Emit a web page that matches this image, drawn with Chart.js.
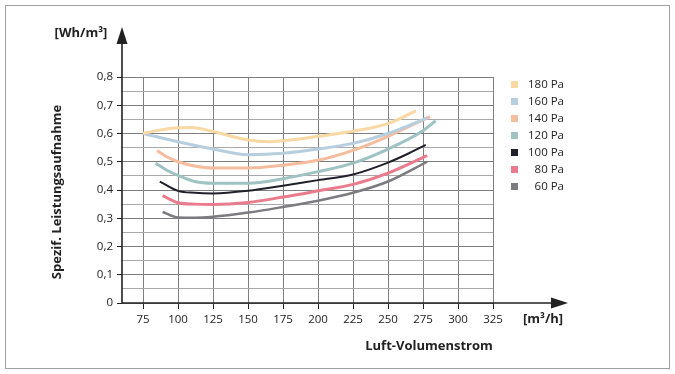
<!DOCTYPE html>
<html>
<head>
<meta charset="utf-8">
<script src="https://cdn.jsdelivr.net/npm/chart.js@4/dist/chart.umd.min.js"></script>
<style>
  html, body { margin: 0; padding: 0; background: #fff; }
  canvas { display: block; }
</style>
</head>
<body>
<canvas id="chart" width="675" height="374"></canvas>
<script>
/* ------------------------------
   Data
   ------------------------------ */
const xTicks = [75, 100, 125, 150, 175, 200, 225, 250, 275, 300, 325];
const yTicks = [0, 0.05, 0.1, 0.15, 0.2, 0.25, 0.3, 0.35, 0.4, 0.45, 0.5, 0.55, 0.6, 0.65, 0.7, 0.75, 0.8];

const seriesLabels = ["180 Pa", "160 Pa", "140 Pa", "120 Pa", "100 Pa", "80 Pa", "60 Pa"];

const x180 = [75, 87, 100, 110, 125, 150, 165, 175, 200, 225, 250, 270];
const y180 = [0.60, 0.612, 0.62, 0.621, 0.607, 0.577, 0.571, 0.574, 0.59, 0.608, 0.635, 0.68];

const x160 = [75, 100, 125, 150, 175, 200, 225, 250, 278];
const y160 = [0.60, 0.571, 0.545, 0.525, 0.53, 0.545, 0.565, 0.60, 0.655];

const x140 = [85, 93, 100, 112, 125, 150, 175, 200, 225, 250, 280];
const y140 = [0.54, 0.515, 0.50, 0.485, 0.478, 0.478, 0.488, 0.505, 0.54, 0.59, 0.66];

const x120 = [84, 92, 100, 112, 125, 150, 175, 200, 225, 250, 275, 284];
const y120 = [0.495, 0.47, 0.452, 0.43, 0.424, 0.424, 0.44, 0.465, 0.495, 0.545, 0.61, 0.645];

const x100 = [87, 100, 112, 125, 150, 175, 200, 225, 250, 265, 277];
const y100 = [0.43, 0.397, 0.39, 0.388, 0.397, 0.415, 0.435, 0.455, 0.497, 0.53, 0.56];

const x80 = [89, 100, 112, 125, 150, 175, 200, 225, 250, 278];
const y80 = [0.38, 0.355, 0.35, 0.349, 0.356, 0.375, 0.397, 0.42, 0.46, 0.522];

const x60 = [89, 100, 112, 125, 150, 175, 200, 225, 250, 278];
const y60 = [0.322, 0.303, 0.302, 0.305, 0.32, 0.34, 0.362, 0.39, 0.43, 0.50];

/* Styles */
const lineColors = ["#f9d8a4", "#b6cede", "#f6bc9e", "#9fc2c4", "#20202c", "#e97b8d", "#7b7b80"];
const lineWidths = [3, 3, 3, 3, 2, 3, 2.5];
const FONT = "'Open Sans', sans-serif";
const INK = "#222";

const seriesX = [x180, x160, x140, x120, x100, x80, x60];
const seriesY = [y180, y160, y140, y120, y100, y80, y60];

const datasets = seriesLabels.map((label, i) => ({
  label,
  data: seriesX[i].map((x, j) => ({ x, y: seriesY[i][j] })),
  borderColor: lineColors[i],
  backgroundColor: lineColors[i],
  borderWidth: lineWidths[i],
  pointRadius: 0,
  cubicInterpolationMode: "monotone",
  fill: false
}));

const isMajor = (v) => Math.round(v * 20) % 2 === 0;
const fmtY = (v) => (v === 0 ? "0" : v.toFixed(1).replace(".", ","));

/* ------------------------------
   Decorations: frame, axis arrows, titles, legend
   ------------------------------ */
const decor = {
  id: "decor",
  afterDraw(chart) {
    const { ctx, chartArea: a } = chart;
    ctx.save();

    // outer frame
    ctx.strokeStyle = "#a0a0a0";
    ctx.lineWidth = 1;
    ctx.strokeRect(5.5, 5.5, 664, 363);

    // axes with arrows
    ctx.strokeStyle = INK;
    ctx.fillStyle = INK;
    ctx.lineWidth = 1.6;
    ctx.beginPath();
    ctx.moveTo(a.left, a.bottom);
    ctx.lineTo(a.left, 40);
    ctx.moveTo(a.left, a.bottom);
    ctx.lineTo(554, a.bottom);
    ctx.stroke();

    ctx.beginPath();
    ctx.moveTo(a.left, 27);
    ctx.lineTo(a.left - 5.5, 44);
    ctx.lineTo(a.left + 5.5, 44);
    ctx.closePath();
    ctx.fill();

    ctx.beginPath();
    ctx.moveTo(568, a.bottom);
    ctx.lineTo(551, a.bottom - 5.5);
    ctx.lineTo(551, a.bottom + 5.5);
    ctx.closePath();
    ctx.fill();

    // titles
    ctx.font = `bold 13px ${FONT}`;
    ctx.textAlign = "center";
    ctx.textBaseline = "middle";
    ctx.fillText("[Wh/m³]", 81, 33);
    ctx.fillText("[m³/h]", 543, 319);
    ctx.fillText("Luft-Volumenstrom", 429, 346);

    ctx.save();
    ctx.translate(57, 192);
    ctx.rotate(-Math.PI / 2);
    ctx.fillText("Spezif. Leistungsaufnahme", 0, 0);
    ctx.restore();

    // legend
    ctx.font = `11.5px ${FONT}`;
    ctx.textAlign = "right";
    seriesLabels.forEach((label, i) => {
      const cy = 84.5 + i * 17;
      ctx.fillStyle = lineColors[i];
      ctx.fillRect(511, cy - 3.5, 7, 7);
      ctx.fillStyle = INK;
      ctx.fillText(label, 564, cy);
    });

    ctx.restore();
  }
};

/* ------------------------------
   Chart
   ------------------------------ */
new Chart(document.getElementById("chart"), {
  type: "line",
  data: { datasets },
  options: {
    responsive: false,
    animation: false,
    layout: { padding: { top: 77, right: 182, bottom: 0, left: 0 } },
    plugins: { legend: { display: false }, tooltip: { enabled: false } },
    scales: {
      x: {
        type: "linear",
        min: 60,
        max: 325,
        afterBuildTicks: (s) => { s.ticks = xTicks.map((v) => ({ value: v })); },
        afterFit: (s) => { s.height = 71; },
        border: { display: false },
        grid: { color: "#7e7e7e", lineWidth: 1, tickLength: 6, tickColor: INK },
        ticks: {
          color: INK, font: { family: FONT, size: 11.5 }, padding: 4,
          maxRotation: 0, autoSkip: false
        }
      },
      y: {
        type: "linear",
        min: 0,
        max: 0.8,
        afterBuildTicks: (s) => { s.ticks = yTicks.map((v) => ({ value: v })); },
        afterFit: (s) => { s.width = 122; },
        border: { display: false },
        grid: {
          color: (c) => (isMajor(c.tick.value) ? "#7e7e7e" : "#a8a8a8"),
          lineWidth: 1,
          tickLength: 5,
          tickColor: (c) => (isMajor(c.tick.value) ? INK : "rgba(0,0,0,0)")
        },
        ticks: {
          color: INK, font: { family: FONT, size: 11.5 }, padding: 4, autoSkip: false,
          callback: (v) => (isMajor(v) ? fmtY(v) : "")
        }
      }
    }
  },
  plugins: [decor]
});
</script>
</body>
</html>
